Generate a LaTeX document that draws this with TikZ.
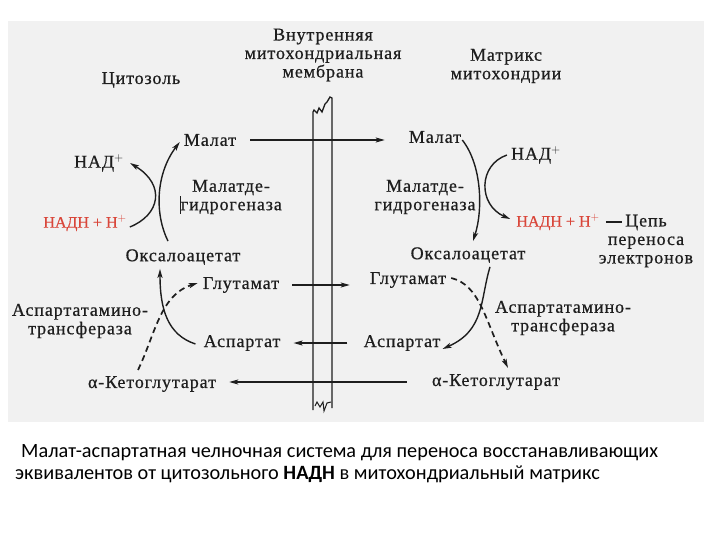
\documentclass[tikz,border=0pt]{standalone}
\usepackage{fontspec}
\setmainfont{Liberation Serif}[LetterSpace=5,FakeBold=0.6]
\newfontfamily\redfont{Liberation Serif}[FakeBold=0.6]
\newfontfamily\capfont{Carlito}
\usetikzlibrary{arrows.meta,calc}
\definecolor{panel}{HTML}{F1F1F1}
\definecolor{ink}{HTML}{1E1E1E}
\definecolor{nadred}{HTML}{D9463A}
\begin{document}
\begin{tikzpicture}[x=1pt,y=-1pt,
  lbl/.style={inner sep=0pt,text=ink,font=\fontsize{18}{18.5}\selectfont,align=center},
  redlbl/.style={lbl,text=nadred,font=\redfont\fontsize{16}{18}\selectfont},
  conn/.style={draw=ink,line width=1.4pt},
  arr/.style={conn,-{Stealth[length=9pt,width=5pt,inset=2pt]}},
  darr/.style={arr,dash pattern=on 6pt off 4pt,line width=1.7pt},
  mem/.style={draw=ink,line width=1.3pt}]
\useasboundingbox (0,0) rectangle (720,540);
\fill[white] (0,0) rectangle (720,540);
\fill[panel] (8,21) rectangle (704,422);
% headings
\node[lbl] (cyt) at (141,80) {Цитозоль};
\node[lbl] (memlbl) at (323,55) {Внутренняя\\митохондриальная\\мембрана};
\node[lbl] (mat) at (506,66) {Матрикс\\митохондрии};
% membrane
\draw[mem] (313,410) -- (313,112) -- (314,110) -- (317,113) -- (319,108) -- (322,112) -- (325,104) -- (327,102) -- (330,97) -- (332,98) -- (332,408);
\draw[mem,line width=1pt] (315,406) -- (317,402) -- (320,407) -- (323,402) -- (324,411) -- (327,403) -- (331,402);
% left labels
\node[lbl] (malL) at (210,140) {Малат};
\node[lbl] (nadL) at (99,163) {НАД$^{+}$};
\node[lbl] (mdhL) at (231,197) {Малатде-\\\rule[-0.2em]{0.7pt}{1em}гидрогеназа};
\node[redlbl] (nadhL) at (85,223) {НАДН + Н$^{+}$};
\node[lbl] (oaaL) at (183,257) {Оксалоацетат};
\node[lbl] (gluL) at (241,285) {Глутамат};
\node[lbl] (astL) at (80,321) {Аспартатамино-\\трансфераза};
\node[lbl] (aspL) at (242,343) {Аспартат};
\node[lbl] (akgL) at (152,384) {α-Кетоглутарат};
% right labels
\node[lbl] (malR) at (435,137) {Малат};
\node[lbl] (nadR) at (536,155) {НАД$^{+}$};
\node[lbl] (mdhR) at (425,197) {Малатде-\\гидрогеназа};
\node[redlbl] (nadhR) at (558,222) {НАДН + Н$^{+}$};
\node[lbl] (chain) at (646,241) {Цепь\\переноса\\электронов};
\node[lbl] (oaaR) at (468,255) {Оксалоацетат};
\node[lbl] (gluR) at (408,280) {Глутамат};
\node[lbl] (astR) at (563,318) {Аспартатамино-\\трансфераза};
\node[lbl] (aspR) at (402,343) {Аспартат};
\node[lbl] (akgR) at (496,382) {α-Кетоглутарат};
% transport across membrane
\draw[arr,shorten <=14pt,shorten >=24pt] (malL.east) -- (malL.east -| malR.west);
\draw[arr,shorten <=13pt,shorten >=20pt] (gluL.east) -- (gluL.east -| gluR.west);
\draw[arr,shorten <=16pt,shorten >=13pt] (aspR.west) -- (aspR.west -| aspL.east);
\draw[arr,shorten <=25pt,shorten >=13pt] (akgR.west) -- (akgR.west -| akgL.east);
% dash to electron chain
\draw[conn] ([xshift=6pt]nadhR.east) -- ([xshift=22pt]nadhR.east);
% left malate dehydrogenase
\draw[arr] ($(oaaL.north)+(-15,-8)$) .. controls (155,215) and (155,175) .. ($(malL.west)+(-4,2)$);
\draw[arr] ($(nadhL.east)+(3,4)$) .. controls (160,215) and (166,185) .. ($(nadL.east)+(6,0)$);
% right malate dehydrogenase
\draw[arr] ($(malR.east)+(1,3)$) .. controls (482,165) and (483,210) .. ($(oaaR.north)+(5,-6)$);
\draw[arr] ($(nadR.west)+(-4,0)$) .. controls (478,165) and (478,205) .. ($(nadhR.west)+(-6,-3)$);
% left aspartate aminotransferase
\draw[arr] ($(aspL.west)+(-8,1)$) .. controls (168,335) and (160,310) .. ($(oaaL.south)+(-23,4)$);
\draw[darr] ($(akgL.north)+(-14,-6)$) .. controls (155,335) and (160,295) .. ($(gluL.west)+(-5,-2)$);
% right aspartate aminotransferase
\draw[arr] ($(oaaR.south)+(22,4)$) .. controls (480,300) and (485,330) .. ($(aspR.east)+(2,6)$);
\draw[darr] ($(gluR.east)+(5,-2)$) .. controls (480,285) and (485,320) .. ($(akgR.north)+(12,-6)$);
% caption
\node[anchor=north west,inner sep=0pt,align=left,font=\capfont\fontsize{20.3}{22.5}\selectfont] (cap) at (15,444)
 {\hspace*{6pt}Малат-аспартатная челночная система для переноса восстанавливающих\\эквивалентов от цитозольного \textbf{НАДН} в митохондриальный матрикс};
\end{tikzpicture}
\end{document}
